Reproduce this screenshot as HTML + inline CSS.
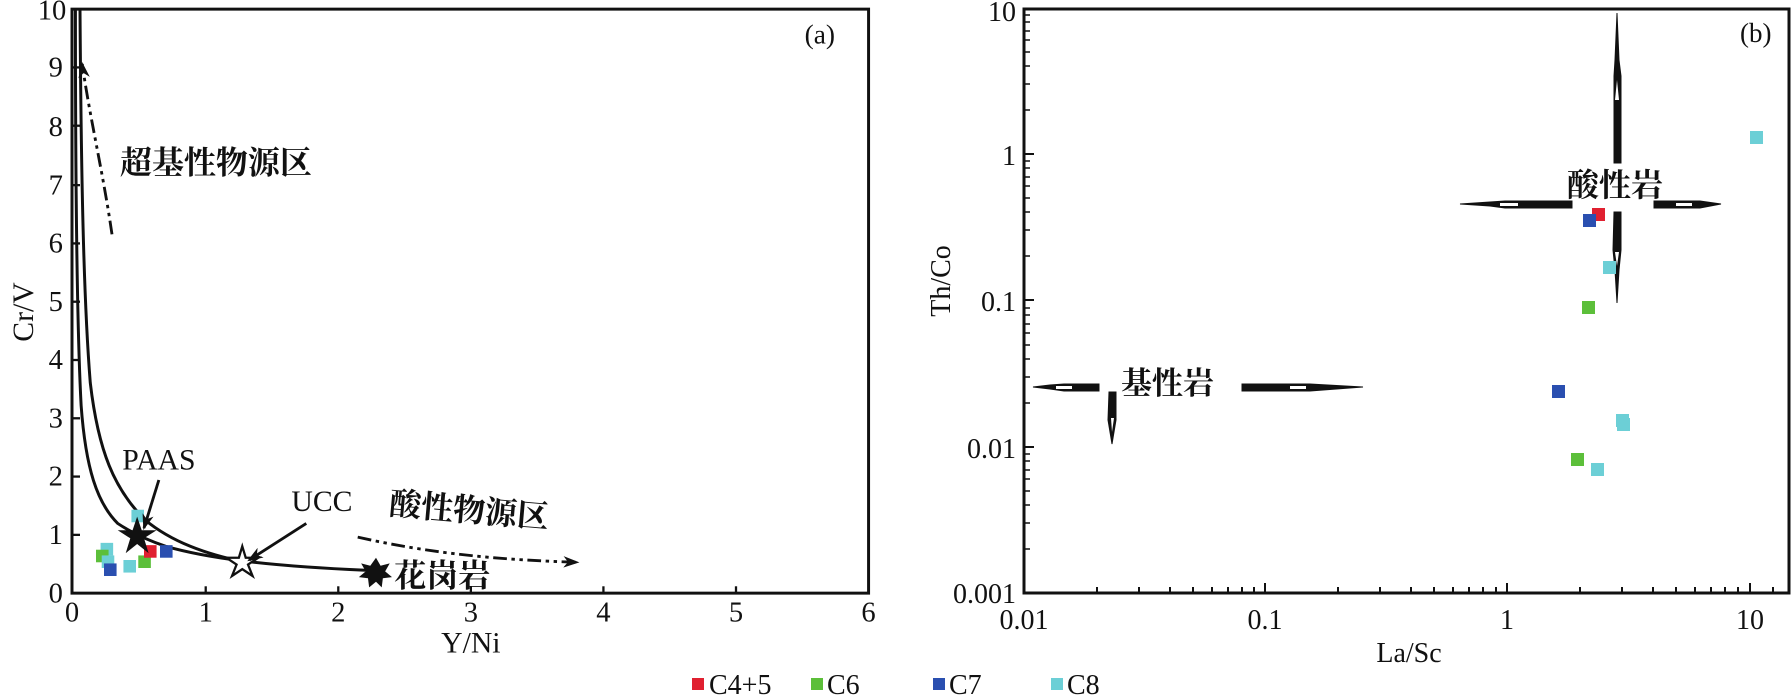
<!DOCTYPE html>
<html><head><meta charset="utf-8"><style>
html,body{margin:0;padding:0;background:#fff;}
svg{display:block;}
text{font-family:"Liberation Serif","Noto Serif CJK SC",serif;fill:#111;}
.cj{font-family:"Liberation Serif","Noto Serif CJK SC","Noto Sans CJK SC",serif;font-weight:bold;}
</style></head><body>
<svg width="1792" height="699" viewBox="0 0 1792 699" xmlns="http://www.w3.org/2000/svg">
<defs>
<marker id="ah" markerWidth="14" markerHeight="10" refX="12" refY="5" orient="auto" markerUnits="userSpaceOnUse">
<path d="M0,0 L14,5 L0,10 L4,5 Z" fill="#111"/></marker>
</defs>
<g transform="scale(1.142857)">
<rect x="63" y="8" width="697" height="511" fill="none" stroke="#111" stroke-width="2.6"/>
<g stroke="#111" stroke-width="2">
<line x1="180" y1="519" x2="180" y2="513"/><line x1="296" y1="519" x2="296" y2="513"/><line x1="412" y1="519" x2="412" y2="513"/><line x1="528" y1="519" x2="528" y2="513"/><line x1="644" y1="519" x2="644" y2="513"/>
<line x1="63" y1="468" x2="70" y2="468"/><line x1="63" y1="417" x2="70" y2="417"/><line x1="63" y1="366" x2="70" y2="366"/><line x1="63" y1="315" x2="70" y2="315"/><line x1="63" y1="264" x2="70" y2="264"/><line x1="63" y1="213" x2="70" y2="213"/><line x1="63" y1="162" x2="70" y2="162"/><line x1="63" y1="110" x2="70" y2="110"/><line x1="63" y1="59" x2="70" y2="59"/>
</g>
<g font-size="25" text-anchor="end">
<text x="55" y="527">0</text><text x="55" y="476">1</text><text x="55" y="425">2</text><text x="55" y="374">3</text><text x="55" y="323">4</text><text x="55" y="272">5</text><text x="55" y="221">6</text><text x="55" y="170">7</text><text x="55" y="119">8</text><text x="55" y="67">9</text><text x="58" y="17">10</text>
</g>
<g font-size="25" text-anchor="middle">
<text x="63" y="544">0</text><text x="180" y="544">1</text><text x="296" y="544">2</text><text x="412" y="544">3</text><text x="528" y="544">4</text><text x="644" y="544">5</text><text x="760" y="544">6</text>
</g>
<text x="412" y="571" font-size="26" text-anchor="middle">Y/Ni</text>
<text x="0" y="0" font-size="26" text-anchor="middle" transform="translate(29,273) rotate(-90)">Cr/V</text>
<text x="704" y="38" font-size="24">(a)</text>
<path d="M66,8 C66,150 67,280 71,355 C75,410 85,440 103,458 C115,466 130,473 145,478 C180,488 230,495 320,499" fill="none" stroke="#111" stroke-width="2.6"/>
<path d="M70,8 C71,150 73,260 79,335 C86,395 100,428 127,455 C150,474 180,485 215,492" fill="none" stroke="#111" stroke-width="2.6"/>
<g>
<rect x="115" y="446" width="11" height="11" fill="#6ccfd6"/>
<rect x="88" y="475" width="11" height="11" fill="#6ccfd6"/>
<rect x="84" y="481" width="11" height="11" fill="#5cbf3a"/>
<rect x="89" y="486" width="11" height="11" fill="#6ccfd6"/>
<rect x="91" y="493" width="11" height="11" fill="#2a4fb0"/>
<rect x="108" y="490" width="11" height="11" fill="#6ccfd6"/>
<rect x="121" y="486" width="11" height="11" fill="#5cbf3a"/>
<rect x="126" y="477" width="11" height="11" fill="#e02030"/>
<rect x="140" y="477" width="11" height="11" fill="#2a4fb0"/>
</g>
<polygon points="120,452 124,464 137,464 126,471 130,484 120,476 110,484 114,471 103,464 116,464" fill="#111"/>
<polygon points="212,478 215,488 226,488 217,494 221,504 212,498 203,504 207,494 198,488 209,488" fill="#fff" stroke="#111" stroke-width="2"/>
<polygon points="329,488 333,495 341,493 337,500 343,505 335,506 334,514 329,509 323,514 322,506 314,505 320,500 316,493 324,495" fill="#111"/>
<text x="345" y="513" class="cj" font-size="28">花岗岩</text>
<text x="107" y="411" font-size="26">PAAS</text>
<line x1="139" y1="420" x2="126" y2="462" stroke="#111" stroke-width="2.5" marker-end="url(#ah)"/>
<text x="255" y="447" font-size="26">UCC</text>
<line x1="268" y1="458" x2="218" y2="490" stroke="#111" stroke-width="2.5" marker-end="url(#ah)"/>
<text x="105" y="152" class="cj" font-size="28">超基性物源区</text>
<text x="0" y="0" class="cj" font-size="28" transform="translate(340,450) rotate(5)">酸性物源区</text>
<path d="M98,205 C90,150 78,100 72,56" fill="none" stroke="#111" stroke-width="2.5" stroke-dasharray="12,4,3,4,3,4" marker-end="url(#ah)"/>
<path d="M313,470 C380,485 440,490 505,492" fill="none" stroke="#111" stroke-width="2.5" stroke-dasharray="12,4,3,4,3,4" marker-end="url(#ah)"/>
</g>

<rect x="1024" y="9" width="765" height="584" fill="none" stroke="#111" stroke-width="3"/>
<g stroke="#111" stroke-width="2">
<line x1="1265" y1="593" x2="1265" y2="583"/><line x1="1507" y1="593" x2="1507" y2="583"/><line x1="1750" y1="593" x2="1750" y2="583"/>
<line x1="1097" y1="593" x2="1097" y2="587"/><line x1="1139" y1="593" x2="1139" y2="587"/><line x1="1170" y1="593" x2="1170" y2="587"/><line x1="1193" y1="593" x2="1193" y2="587"/><line x1="1212" y1="593" x2="1212" y2="587"/><line x1="1228" y1="593" x2="1228" y2="587"/><line x1="1242" y1="593" x2="1242" y2="587"/><line x1="1254" y1="593" x2="1254" y2="587"/>
<line x1="1338" y1="593" x2="1338" y2="587"/><line x1="1380" y1="593" x2="1380" y2="587"/><line x1="1411" y1="593" x2="1411" y2="587"/><line x1="1434" y1="593" x2="1434" y2="587"/><line x1="1453" y1="593" x2="1453" y2="587"/><line x1="1469" y1="593" x2="1469" y2="587"/><line x1="1483" y1="593" x2="1483" y2="587"/><line x1="1496" y1="593" x2="1496" y2="587"/>
<line x1="1580" y1="593" x2="1580" y2="587"/><line x1="1622" y1="593" x2="1622" y2="587"/><line x1="1653" y1="593" x2="1653" y2="587"/><line x1="1676" y1="593" x2="1676" y2="587"/><line x1="1695" y1="593" x2="1695" y2="587"/><line x1="1711" y1="593" x2="1711" y2="587"/><line x1="1725" y1="593" x2="1725" y2="587"/><line x1="1738" y1="593" x2="1738" y2="587"/>
<line x1="1773" y1="593" x2="1773" y2="587"/>
<line x1="1024" y1="154" x2="1034" y2="154"/><line x1="1024" y1="300" x2="1034" y2="300"/><line x1="1024" y1="447" x2="1034" y2="447"/>
</g>
<g stroke="#111" stroke-width="1.6">
<path d="M1024,549h6M1024,523h6M1024,505h6M1024,491h6M1024,479h6M1024,470h6M1024,461h6M1024,454h6
M1024,403h6M1024,377h6M1024,359h6M1024,345h6M1024,333h6M1024,324h6M1024,315h6M1024,308h6
M1024,256h6M1024,230h6M1024,212h6M1024,198h6M1024,186h6M1024,177h6M1024,168h6M1024,161h6
M1024,110h6M1024,84h6M1024,66h6M1024,52h6M1024,40h6M1024,31h6M1024,22h6M1024,15h6"/>
</g>
<g font-size="28" text-anchor="end">
<text x="1016" y="21">10</text><text x="1016" y="165">1</text><text x="1016" y="311">0.1</text><text x="1016" y="458">0.01</text><text x="1016" y="603">0.001</text>
</g>
<g font-size="28" text-anchor="middle">
<text x="1024" y="629">0.01</text><text x="1265" y="629">0.1</text><text x="1507" y="629">1</text><text x="1750" y="629">10</text>
</g>
<text x="1409" y="662" font-size="28" text-anchor="middle">La/Sc</text>
<text x="0" y="0" font-size="28" text-anchor="middle" transform="translate(950,281) rotate(-90)">Th/Co</text>
<text x="1740" y="42" font-size="27">(b)</text>
<g fill="#111" stroke="#111" stroke-width="1">
<!-- upper vertical: thin tip at top, head ~76-103, thick bar to 163 -->
<polygon points="1617,13 1619,60 1621,76 1621,163 1614,163 1614,76 1615,60"/>
<polygon points="1614,212 1621,212 1621,250 1619,270 1617,303 1615,270 1613,250"/>
<polygon points="1460,204 1490,202 1505,201 1572,201 1572,208 1505,208 1490,206"/>
<polygon points="1654,201 1700,201 1721,204 1700,208 1654,208"/>
<polygon points="1033,387 1050,385 1064,384 1099,384 1099,391 1064,391 1050,389"/>
<polygon points="1242,384 1310,384 1363,387 1310,391 1242,391"/>
<polygon points="1109,392 1116,392 1116,420 1112,444 1108,420"/>
</g>
<g fill="#fff" stroke="none">
<polygon points="1617,80 1619,100 1615,100"/>
<polygon points="1615,252 1619,252 1617,266"/>
<polygon points="1500,203 1518,203 1518,206 1500,206"/>
<polygon points="1676,203 1692,203 1692,206 1676,206"/>
<polygon points="1056,386 1072,386 1072,389 1056,389"/>
<polygon points="1290,386 1306,386 1306,389 1290,389"/>
<polygon points="1111,418 1114,418 1112,432"/>
</g>
<text x="1567" y="196" class="cj" font-size="32">酸性岩</text>
<text x="1121" y="394" class="cj" font-size="31">基性岩</text>
<g>
<rect x="1592" y="208" width="13" height="13" fill="#e02030"/>
<rect x="1583" y="214" width="13" height="13" fill="#2a4fb0"/>
<rect x="1603" y="261" width="13" height="13" fill="#6ccfd6"/>
<rect x="1582" y="301" width="13" height="13" fill="#5cbf3a"/>
<rect x="1552" y="385" width="13" height="13" fill="#2a4fb0"/>
<rect x="1616" y="414" width="13" height="13" fill="#6ccfd6"/>
<rect x="1617" y="418" width="13" height="13" fill="#6ccfd6"/>
<rect x="1571" y="453" width="13" height="13" fill="#5cbf3a"/>
<rect x="1591" y="463" width="13" height="13" fill="#6ccfd6"/>
<rect x="1750" y="131" width="13" height="13" fill="#6ccfd6"/>
</g>
<rect x="692" y="678" width="12" height="12" fill="#e02030"/><text x="709" y="694" font-size="28">C4+5</text>
<rect x="811" y="678" width="12" height="12" fill="#5cbf3a"/><text x="827" y="694" font-size="28">C6</text>
<rect x="933" y="678" width="12" height="12" fill="#2a4fb0"/><text x="949" y="694" font-size="28">C7</text>
<rect x="1051" y="678" width="12" height="12" fill="#6ccfd6"/><text x="1067" y="694" font-size="28">C8</text>
</svg>
</body></html>
